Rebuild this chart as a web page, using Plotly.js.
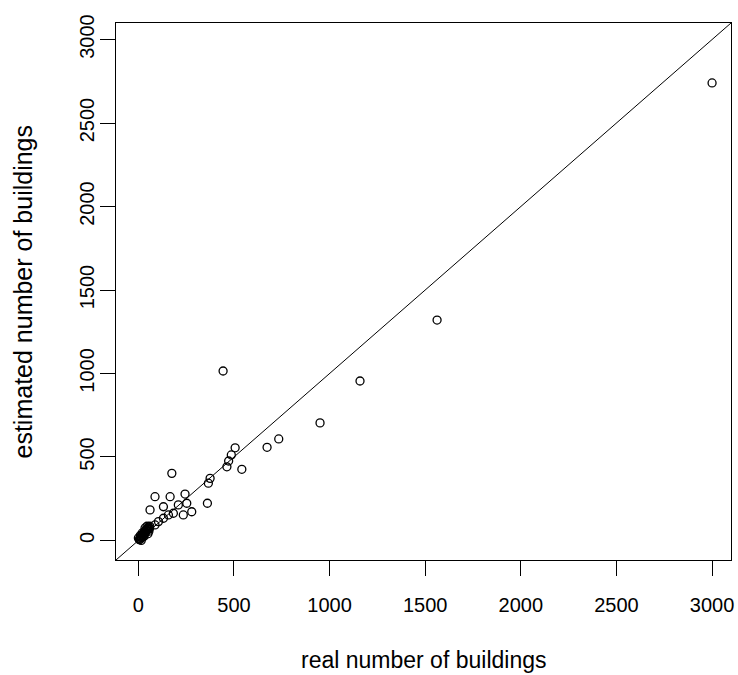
<!DOCTYPE html>
<html>
<head>
<meta charset="utf-8">
<script src="https://cdn.plot.ly/plotly-3.0.1.min.js"></script>
<style>html,body{margin:0;padding:0;background:#fff;}#chart{width:738px;height:675px;}</style>
</head>
<body>
<div id="chart"></div>
<script>
// real number of buildings
var realBuildings = [
  3000, 1562, 1159, 950, 734, 673, 443, 541, 506, 486, 472, 463,
  375, 366, 361, 175,
  87, 166, 244, 61, 131, 209, 253, 279, 235, 183, 157, 131, 105, 87,
  5, 8, 10, 12, 15, 18, 20, 22, 25, 28, 30, 32, 35, 38, 40, 42, 45, 48, 50, 52, 55, 58, 60, 25, 35, 45,
  10, 20, 30, 40, 50, 15, 0, 35, 55, 45
];
// estimated number of buildings
var estimatedBuildings = [
  2740, 1320, 955, 704, 608, 558, 1015, 426, 555, 512, 476, 441,
  372, 343, 223, 402,
  262, 262, 278, 183, 202, 213, 223, 172, 153, 163, 153, 133, 113, 93,
  5, 12, 8, 20, 25, 18, 32, 28, 40, 35, 48, 42, 55, 50, 62, 58, 70, 65, 75, 68, 80, 72, 85, 22, 45, 60,
  30, 45, 25, 60, 40, 0, 15, 75, 55, 85
];
var axisRange = [-117, 3099];
var tickVals = [0, 500, 1000, 1500, 2000, 2500, 3000];
var tickText = ['0', '500', '1000', '1500', '2000', '2500', '3000'];

var tickFont = {family: 'Liberation Sans, Arial, sans-serif', size: 20, color: '#000'};
var xTitleFont = {family: 'Liberation Sans, Arial, sans-serif', size: 23, color: '#000'};
var yTitleFont = {family: 'Liberation Sans, Arial, sans-serif', size: 25, color: '#000'};

var traces = [
  {
    x: realBuildings, y: estimatedBuildings, type: 'scatter', mode: 'markers',
    marker: {symbol: 'circle-open', size: 8, color: '#000', line: {width: 1.3, color: '#000'}},
    hoverinfo: 'x+y', showlegend: false
  },
  {
    x: axisRange, y: axisRange, type: 'scatter', mode: 'lines',
    line: {color: '#000', width: 1}, hoverinfo: 'skip', showlegend: false
  }
];

var axisCommon = {
  range: axisRange, tickmode: 'array', tickvals: tickVals, ticktext: tickText,
  ticks: 'outside', ticklen: 15, tickwidth: 1, tickcolor: '#000',
  showgrid: false, zeroline: false, showline: true, linecolor: '#000', linewidth: 1,
  mirror: true, tickfont: tickFont, automargin: false
};

var layout = {
  width: 738, height: 675,
  margin: {l: 116, r: 7, t: 23, b: 115},
  paper_bgcolor: '#fff', plot_bgcolor: '#fff',
  xaxis: Object.assign({}, axisCommon, {ticklabelstandoff: 12}),
  yaxis: Object.assign({}, axisCommon, {tickangle: -90, ticklabelstandoff: -2}),
  showlegend: false,
  annotations: [
    {text: 'real number of buildings', xref: 'paper', yref: 'paper', x: 0.5, y: 0,
     xanchor: 'center', yanchor: 'middle', yshift: -100, showarrow: false, font: xTitleFont},
    {text: 'estimated number of buildings', xref: 'paper', yref: 'paper', x: 0, y: 0.5,
     xanchor: 'center', yanchor: 'middle', xshift: -94, textangle: -90, showarrow: false, font: yTitleFont}
  ]
};

Plotly.newPlot('chart', traces, layout, {displayModeBar: false, staticPlot: true});
</script>
</body>
</html>
